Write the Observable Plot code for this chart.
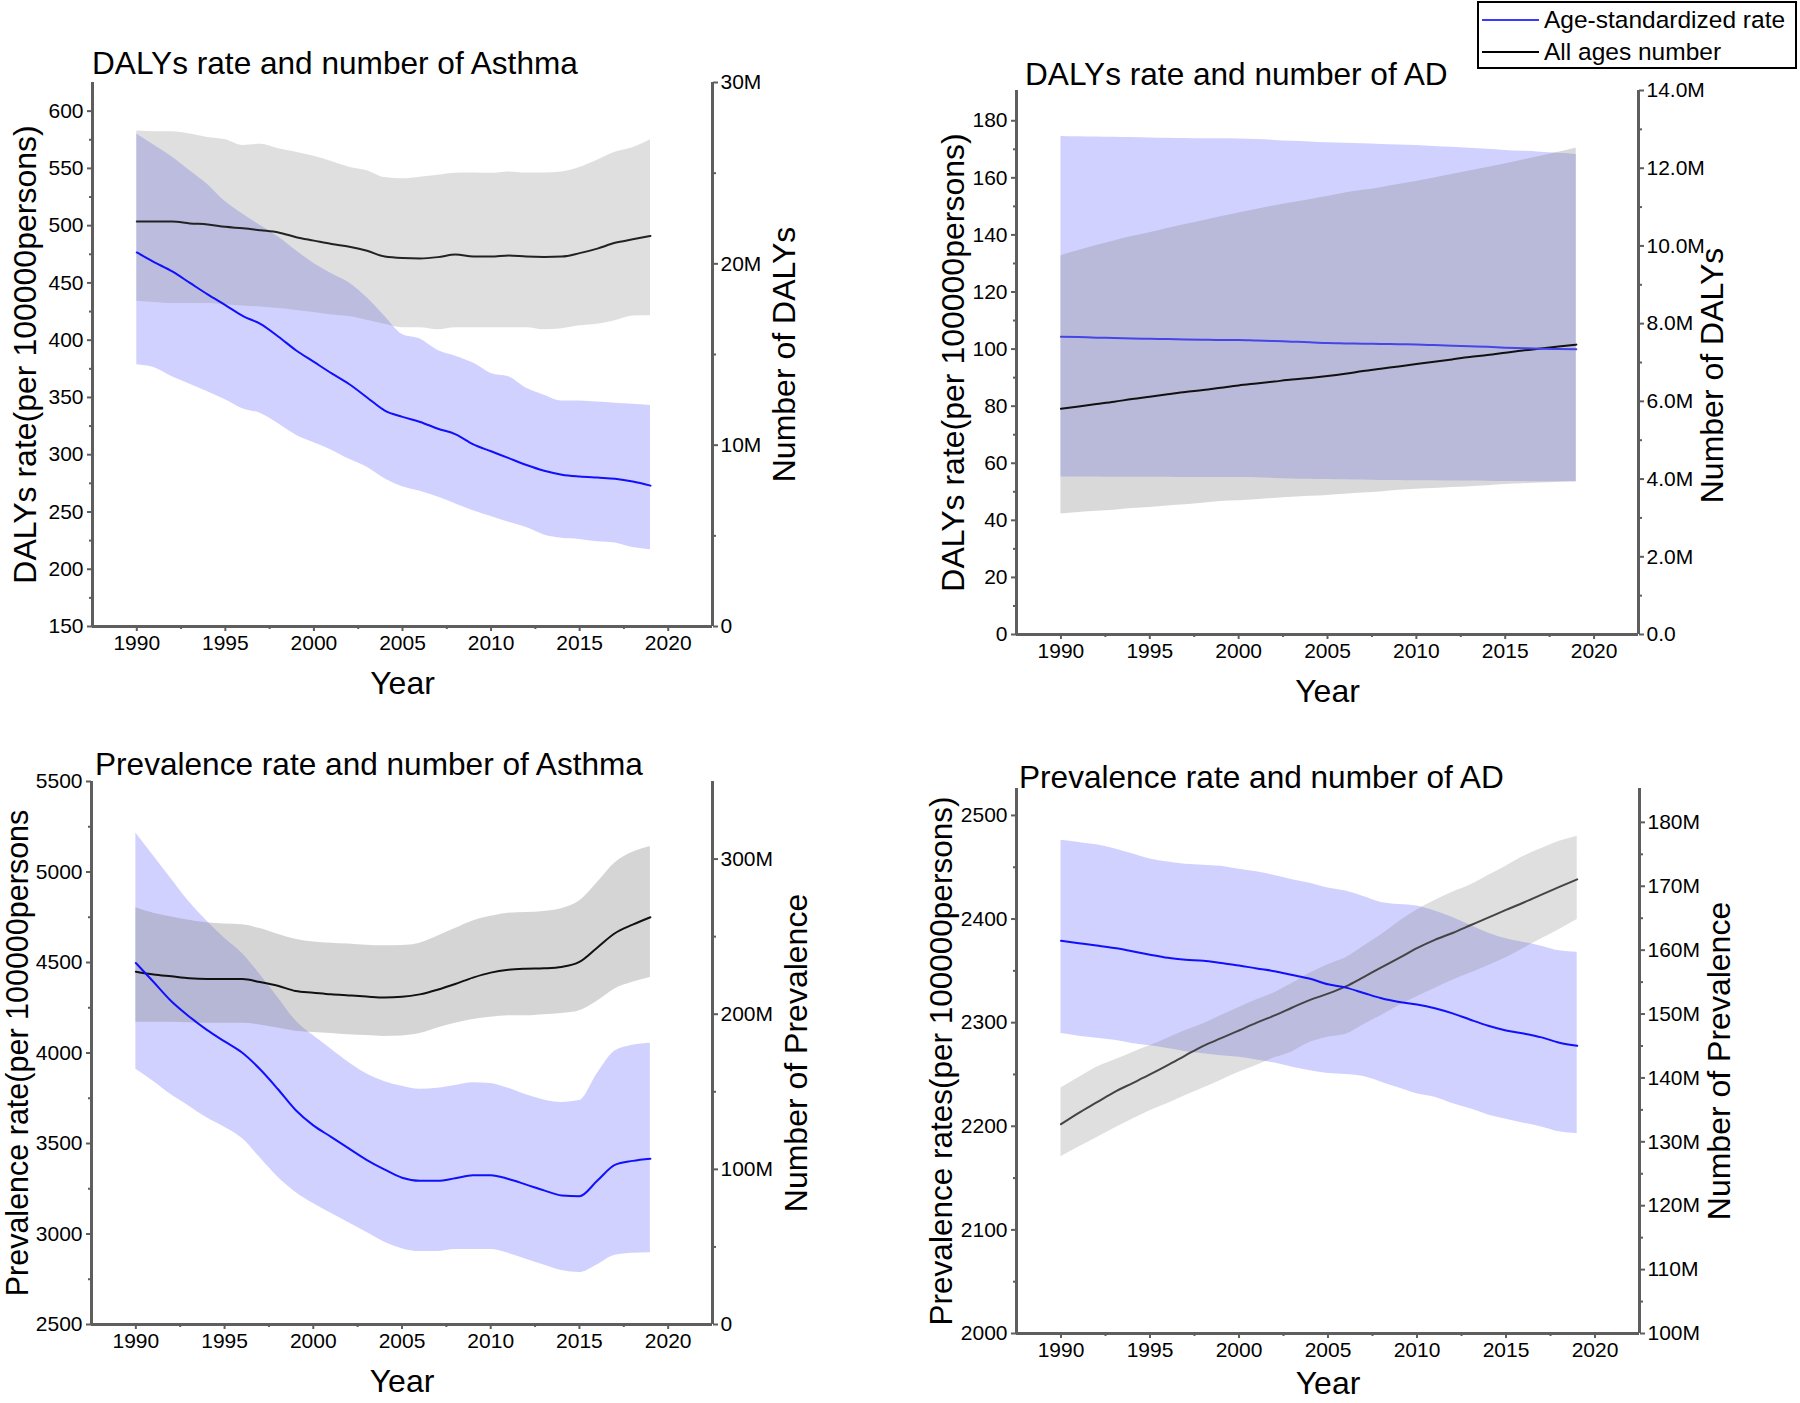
<!DOCTYPE html>
<html>
<head>
<meta charset="utf-8">
<script src="https://cdn.jsdelivr.net/npm/d3@7"></script>
<script src="https://cdn.jsdelivr.net/npm/@observablehq/plot@0.6"></script>
<style>
  html, body { margin: 0; padding: 0; background: #fff; }
  #root { position: relative; width: 1800px; height: 1403px; overflow: hidden; background: #fff;
          font-family: "Liberation Sans", Arial, sans-serif; color: #000; }
  .panel { position: absolute; }
  .ttl { position: absolute; font-size: 31.6px; line-height: 31px; white-space: nowrap; }
  #legend { position: absolute; left: 1477px; top: 1px; width: 316px; height: 64px; border: 2px solid #000; background: #fff; }
  #legend .ln { position: absolute; left: 3px; width: 57px; height: 2px; }
  #legend .tx { position: absolute; left: 65px; font-size: 24.5px; line-height: 28px; white-space: nowrap; }
</style>
</head>
<body>
<div id="root"></div>
<script>
// ---------------- data ----------------
const years = [1990,1991,1992,1993,1994,1995,1996,1997,1998,1999,2000,2001,2002,2003,2004,2005,2006,2007,2008,2009,2010,2011,2012,2013,2014,2015,2016,2017,2018,2019];

const xTicks = [1990,1995,2000,2005,2010,2015,2020];
const xMinor = [1992.5,1997.5,2002.5,2007.5,2012.5,2017.5];

// Panel 1: DALYs, Asthma
const p1RateMid = [476.6,468,460,450,440,430.6,421,414,403,391,381,371,361.5,350,338.5,333,328.6,322.7,317.8,309,303,297,291,286,282.6,281,280,279,276.6,273];
const p1RateHi  = [580,570,560,548,536,521,510,500,490,478,467,458,450,437,421,405,401,391,386,380,371,368,358,352,347,347,346,345,344,343];
const p1RateLo  = [378.6,376,368,361.5,355,348,340,336,327,317,310.5,304,296,289,279,272,268,263,257,251,246,241,236.5,230,227,226,224,223,219,217];
const p1NumMid  = [22.33,22.33,22.33,22.23,22.17,22.04,21.96,21.85,21.73,21.47,21.28,21.09,20.94,20.72,20.40,20.32,20.30,20.37,20.51,20.40,20.40,20.46,20.40,20.38,20.40,20.59,20.84,21.16,21.35,21.54];
const p1NumHi   = [27.32,27.28,27.28,27.16,26.97,26.84,26.53,26.59,26.34,26.15,25.93,25.64,25.33,25.14,24.76,24.69,24.78,24.88,24.99,25.01,24.99,25.07,25.01,25.01,25.07,25.31,25.71,26.15,26.40,26.84];
const p1NumLo   = [17.94,17.87,17.81,17.81,17.81,17.75,17.68,17.62,17.53,17.43,17.31,17.18,17.10,16.89,16.67,16.48,16.48,16.36,16.48,16.48,16.48,16.48,16.48,16.36,16.42,16.58,16.67,16.86,17.12,17.14];
const p1LeftTicks = [150,200,250,300,350,400,450,500,550,600];
const p1LeftMinor = [175,225,275,325,375,425,475,525,575];
const p1RightTicks = [0,10,20,30];
const p1RightLabels = ["0","10M","20M","30M"];
const p1RightMinor = [5,15,25];

// Panel 2: DALYs, AD
const p2RateMid = [104.3,104.2,104.0,103.9,103.7,103.6,103.5,103.4,103.3,103.2,103.2,103.0,102.8,102.6,102.4,102.1,102.0,101.9,101.8,101.7,101.6,101.4,101.2,101.0,100.8,100.5,100.3,100.1,100.0,99.9];
const p2RateHi  = [174.5,174.4,174.3,174.2,174.1,174.0,173.9,173.8,173.7,173.7,173.6,173.4,173.1,172.8,172.6,172.3,172.1,171.9,171.7,171.5,171.3,171.0,170.7,170.4,170.0,169.6,169.3,169.0,168.6,168.2];
const p2RateLo  = [55.2,55.2,55.2,55.1,55.1,55.1,55.1,55.0,55.0,55.0,55.0,54.9,54.7,54.5,54.4,54.3,54.2,54.1,54.0,54.0,53.9,53.9,53.8,53.8,53.7,53.6,53.6,53.5,53.5,53.4];
const p2NumMid  = [5.81,5.87,5.93,5.99,6.06,6.12,6.18,6.24,6.29,6.35,6.41,6.46,6.51,6.56,6.60,6.65,6.71,6.78,6.84,6.90,6.96,7.02,7.08,7.14,7.19,7.25,7.31,7.36,7.41,7.46];
const p2NumHi   = [9.75,9.88,10.01,10.13,10.24,10.34,10.45,10.55,10.65,10.75,10.85,10.94,11.03,11.11,11.19,11.27,11.36,11.43,11.50,11.58,11.66,11.75,11.84,11.93,12.02,12.11,12.21,12.31,12.41,12.52];
const p2NumLo   = [3.10,3.14,3.17,3.20,3.24,3.27,3.31,3.34,3.38,3.42,3.44,3.47,3.50,3.53,3.56,3.58,3.61,3.64,3.67,3.71,3.74,3.76,3.78,3.80,3.83,3.86,3.88,3.90,3.92,3.94];
const p2LeftTicks = [0,20,40,60,80,100,120,140,160,180];
const p2LeftMinor = [10,30,50,70,90,110,130,150,170];
const p2RightTicks = [0,2,4,6,8,10,12,14];
const p2RightLabels = ["0.0","2.0M","4.0M","6.0M","8.0M","10.0M","12.0M","14.0M"];
const p2RightMinor = [1,3,5,7,9,11,13];

// Panel 3: Prevalence, Asthma
const p3RateMid = [4497,4392,4286,4202,4128,4064,4001,3910,3801,3685,3600,3537,3473,3410,3357,3311,3294,3294,3308,3325,3325,3304,3273,3241,3213,3209,3294,3382,3404,3416];
const p3RateHi  = [5215,5088,4962,4835,4729,4634,4550,4434,4307,4180,4096,4022,3948,3885,3843,3816,3800,3805,3821,3836,3832,3805,3769,3741,3727,3737,3885,4011,4043,4054];
const p3RateLo  = [3910,3843,3769,3706,3642,3590,3527,3421,3315,3231,3168,3115,3062,3009,2956,2919,2903,2903,2914,2914,2914,2893,2861,2829,2798,2787,2829,2882,2893,2897];
const p3NumMid  = [227.4,225.6,224.4,223.2,222.7,222.7,222.7,220.7,218.3,215.0,213.9,212.8,212.1,211.4,210.8,211.2,212.8,215.8,219.5,223.6,226.8,228.6,229.3,229.6,230.5,233.7,242.9,252.2,257.7,262.5];
const p3NumHi   = [268.7,265.1,262.6,260.6,258.9,258.2,257.6,255.2,251.5,248.3,246.5,245.8,245.3,244.5,244.1,244.3,245.8,250.3,255.2,260.1,263.1,265.1,265.5,266.2,268.0,272.9,284.7,297.5,304.4,308.1];
const p3NumLo   = [194.8,194.8,194.8,194.5,194.1,194.1,194.1,193.1,191.1,189.1,188.2,187.5,186.7,186.2,185.7,186.0,187.5,191.1,194.1,196.6,198.0,199.0,199.0,199.7,200.4,202.2,208.4,216.3,220.6,223.6];
const p3LeftTicks = [2500,3000,3500,4000,4500,5000,5500];
const p3LeftMinor = [2750,3250,3750,4250,4750,5250];
const p3RightTicks = [0,100,200,300];
const p3RightLabels = ["0","100M","200M","300M"];
const p3RightMinor = [50,150,250];

// Panel 4: Prevalence, AD
const p4RateMid = [2379,2376.7,2374.4,2372,2369,2365.6,2362.6,2360.8,2359.7,2357.5,2355.2,2352.3,2349.7,2346,2342.3,2337,2333.8,2328.7,2323.5,2320,2317.6,2314,2309,2302.8,2297,2292.5,2289.5,2285.8,2280.6,2277.7];
const p4RateHi  = [2476,2474,2471.6,2467.9,2463,2458,2455,2453,2452,2451,2448,2445.7,2442,2438,2434.6,2430,2427,2421.7,2416,2414,2412.5,2407.7,2401.4,2394,2386.6,2381,2377.4,2373.7,2369.3,2368];
const p4RateLo  = [2289.5,2287,2285,2283,2280,2277.7,2275,2272,2270,2268,2266.6,2264,2261,2257,2253.7,2251,2250,2248,2242.6,2237,2231.5,2228,2222,2216.8,2211,2206.8,2203,2199.4,2194.6,2192.8];
const p4NumMid  = [132.76,134.54,136.16,137.79,139.16,140.54,142.00,143.54,145.03,146.22,147.43,148.65,149.78,151.02,152.22,153.19,154.33,155.79,157.31,158.80,160.31,161.62,162.69,163.89,165.09,166.30,167.46,168.70,169.90,171.08];
const p4NumHi   = [138.43,140.05,141.68,142.81,143.95,145.08,146.22,147.43,148.49,149.78,151.02,152.22,153.35,154.81,156.44,157.73,158.80,160.60,162.40,164.49,166.30,167.79,169.08,170.19,171.68,173.14,174.68,175.90,177.03,177.84];
const p4NumLo   = [127.67,129.19,130.65,132.11,133.54,134.87,136.00,137.25,138.43,139.65,140.87,142.00,143.14,144.11,145.57,146.38,146.83,148.33,149.78,151.33,152.71,154.00,155.30,156.44,157.57,158.80,160.31,161.79,163.25,164.80];
const p4LeftTicks = [2000,2100,2200,2300,2400,2500];
const p4LeftMinor = [2050,2150,2250,2350,2450];
const p4RightTicks = [100,110,120,130,140,150,160,170,180];
const p4RightLabels = ["100M","110M","120M","130M","140M","150M","160M","170M","180M"];
const p4RightMinor = [105,115,125,135,145,155,165,175];

const titles = ["DALYs rate and number of Asthma","DALYs rate and number of AD","Prevalence rate and number of Asthma","Prevalence rate and number of AD"];
const leftTitles = ["DALYs rate(per 100000persons)","DALYs rate(per 100000persons)","Prevalence rate(per 100000persons","Prevalence rates(per 100000persons)"];
const rightTitles = ["Number of DALYs","Number of DALYs","Number of Prevalence","Number of Prevalence"];
const legendLabels = ["Age-standardized rate","All ages number"];

// ---------------- layout ----------------
const panels = [
  {left:0, top:0, width:900, height:700, mL:92, mR:188, mT:82, mB:74, L:[150,625], R:[0,30],
   rate:[p1RateMid,p1RateLo,p1RateHi], num:[p1NumMid,p1NumLo,p1NumHi],
   lt:p1LeftTicks, lm:p1LeftMinor, rt:p1RightTicks, rl:p1RightLabels, rm:p1RightMinor,
   yOff:67, yFs:32, rOff:72, rDy:0, yearDy:67, titleX:92, titleTop:48, grayOp:0.25, blue:"#1010ff", black:"#222"},
  {left:900, top:0, width:900, height:700, mL:116, mR:162, mT:90, mB:66, L:[0,190.6], R:[0,14],
   rate:[p2RateMid,p2RateLo,p2RateHi], num:[p2NumMid,p2NumLo,p2NumHi],
   lt:p2LeftTicks, lm:p2LeftMinor, rt:p2RightTicks, rl:p2RightLabels, rm:p2RightMinor,
   yOff:63, yFs:32, rOff:74, rDy:13, yearDy:67, titleX:1025, titleTop:59, grayOp:0.3, blue:"#4545e8", black:"#111"},
  {left:0, top:700, width:900, height:703, mL:91, mR:188, mT:81, mB:79, L:[2500,5500], R:[0,350],
   rate:[p3RateMid,p3RateLo,p3RateHi], num:[p3NumMid,p3NumLo,p3NumHi],
   lt:p3LeftTicks, lm:p3LeftMinor, rt:p3RightTicks, rl:p3RightLabels, rm:p3RightMinor,
   yOff:73, yFs:30.5, rOff:84, rDy:0, yearDy:67, titleX:95, titleTop:749, grayOp:0.33, blue:"#1010ff", black:"#111"},
  {left:900, top:700, width:900, height:703, mL:116, mR:161, mT:88, mB:70, L:[2000,2526], R:[100,185.3],
   rate:[p4RateMid,p4RateLo,p4RateHi], num:[p4NumMid,p4NumLo,p4NumHi],
   lt:p4LeftTicks, lm:p4LeftMinor, rt:p4RightTicks, rl:p4RightLabels, rm:p4RightMinor,
   yOff:75, yFs:31.5, rOff:80, rDy:0, yearDy:60, titleX:1019, titleTop:762, grayOp:0.25, blue:"#1010ff", black:"#444"}
];

const root = document.getElementById("root");
const axisColor = "#5e5e5e";
const xDomain = [1987.5, 2022.5];

panels.forEach((c, k) => {
  const toL = m => c.L[0] + (m - c.R[0]) / (c.R[1] - c.R[0]) * (c.L[1] - c.L[0]);
  const rows = years.map((yr, i) => ({
    year: yr,
    rm: c.rate[0][i], rlo: c.rate[1][i], rhi: c.rate[2][i],
    nm: toL(c.num[0][i]), nlo: toL(c.num[1][i]), nhi: toL(c.num[2][i])
  }));
  const rPos = c.rt.map(toL);
  const rLab = new Map(rPos.map((p, i) => [p, c.rl[i]]));
  const rMinorPos = c.rm.map(toL);

  const fig = Plot.plot({
    width: c.width, height: c.height,
    marginLeft: c.mL, marginRight: c.mR, marginTop: c.mT, marginBottom: c.mB,
    x: {domain: xDomain},
    y: {domain: c.L},
    style: {fontFamily: '"Liberation Sans", Arial, sans-serif', fontSize: "21px", color: "#000", background: "transparent", overflow: "visible"},
    marks: [
      Plot.areaY(rows, {x: "year", y1: "rlo", y2: "rhi", fill: "#0000ff", fillOpacity: 0.18, curve: "monotone-x"}),
      Plot.areaY(rows, {x: "year", y1: "nlo", y2: "nhi", fill: "#808080", fillOpacity: c.grayOp, curve: "monotone-x"}),
      Plot.lineY(rows, {x: "year", y: "nm", stroke: c.black, strokeWidth: 2, curve: "monotone-x"}),
      Plot.lineY(rows, {x: "year", y: "rm", stroke: c.blue, strokeWidth: 2, curve: "monotone-x"}),
      Plot.ruleX([xDomain[0]], {stroke: axisColor, strokeWidth: 3}),
      Plot.ruleX([xDomain[1]], {stroke: axisColor, strokeWidth: 3}),
      Plot.ruleY([c.L[0]], {stroke: axisColor, strokeWidth: 3}),
      Plot.axisX(xTicks, {tickSize: 5, tickPadding: 4, stroke: axisColor, strokeWidth: 2, fill: "#000", fontSize: 21, tickFormat: d => String(d), label: null}),
      Plot.axisX(xMinor, {tickSize: 3, stroke: axisColor, strokeWidth: 2, tickFormat: () => "", label: null}),
      Plot.axisY(c.lt, {anchor: "left", tickSize: 5, tickPadding: 4, stroke: axisColor, strokeWidth: 2, fill: "#000", fontSize: 21, tickFormat: d => String(d), label: null}),
      Plot.axisY(c.lm, {anchor: "left", tickSize: 3, stroke: axisColor, strokeWidth: 2, tickFormat: () => "", label: null}),
      Plot.axisY(rPos, {anchor: "right", tickSize: 5, tickPadding: 3, stroke: axisColor, strokeWidth: 2, fill: "#000", fontSize: 21, tickFormat: d => rLab.get(d), label: null}),
      Plot.axisY(rMinorPos, {anchor: "right", tickSize: 3, stroke: axisColor, strokeWidth: 2, tickFormat: () => "", label: null}),
      Plot.text(["Year"], {frameAnchor: "bottom", dy: c.yearDy, fontSize: 32, textAnchor: "middle", fill: "#000"}),
      Plot.text([leftTitles[k]], {frameAnchor: "left", dx: -c.yOff, rotate: -90, textAnchor: "middle", fontSize: c.yFs, fill: "#000"}),
      Plot.text([rightTitles[k]], {frameAnchor: "right", dx: c.rOff, dy: c.rDy, rotate: -90, textAnchor: "middle", fontSize: 32, fill: "#000"})
    ]
  });
  const holder = document.createElement("div");
  holder.className = "panel";
  holder.style.left = c.left + "px";
  holder.style.top = c.top + "px";
  holder.appendChild(fig);
  root.appendChild(holder);

  const t = document.createElement("div");
  t.className = "ttl";
  t.style.left = c.titleX + "px";
  t.style.top = c.titleTop + "px";
  t.textContent = titles[k];
  root.appendChild(t);
});

// legend
const lg = document.createElement("div");
lg.id = "legend";
const legendColors = ["#3a3aff", "#000"];
legendLabels.forEach((lab, i) => {
  const ln = document.createElement("div");
  ln.className = "ln";
  ln.style.top = (i === 0 ? 16 : 48) + "px";
  ln.style.background = legendColors[i];
  lg.appendChild(ln);
  const tx = document.createElement("div");
  tx.className = "tx";
  tx.style.top = (i === 0 ? 3 : 35) + "px";
  tx.textContent = lab;
  lg.appendChild(tx);
});
root.appendChild(lg);
</script>
</body>
</html>
